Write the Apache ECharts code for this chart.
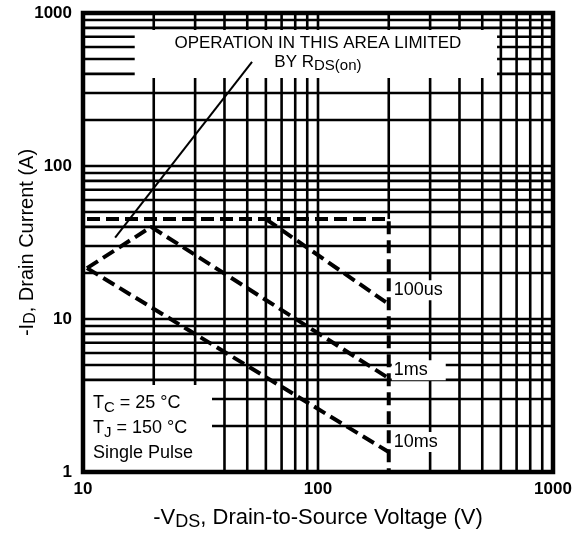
<!DOCTYPE html>
<html>
<head>
<meta charset="utf-8">
<script src="https://cdn.jsdelivr.net/npm/echarts@6/dist/echarts.min.js"></script>
<style>
  html, body { margin: 0; padding: 0; background: #fff; }
  #chart { width: 580px; height: 533px; }
</style>
</head>
<body>
<div id="chart"></div>
<script>
// axis ranges
const vRange = [10, 1000];
const iRange = [1, 1000];

// grid lines inside the plot
const vGrid = [20, 30, 40, 50, 60, 70, 80, 90, 100, 200, 300, 400, 500, 600, 700, 800, 900];
const iGrid = [2, 3, 4, 5, 6, 7, 8, 9, 10, 20, 30, 40, 50, 60, 70, 80, 90,
               100, 200, 300, 400, 500, 600, 700, 800, 900];

// RDS(on) limit
const rdsV = [13.7, 52.4];
const rdsI = [34, 480];
// current / voltage limit
const limitV = [10.4, 200, 200];
const limitI = [45, 45, 1];
// pulse curves
const us100V = [60, 200];
const us100I = [45, 12.5];
const ms1V = [10.4, 19.5, 200];
const ms1I = [21.5, 40, 4.1];
const ms10V = [10.4, 200];
const ms10I = [21.5, 1.35];

// note boxes [v1, i1, v2, i2]
const noteBoxes = [
  [16.6, 774, 578, 376],
  [10, 3.7, 35.4, 1]
];
const noteTexts = [
  '{a|OPERATION IN THIS AREA LIMITED}\n{b|BY R}{s|DS(on)}',
  'T{s|C} = 25 °C\nT{s|J} = 150 °C\nSingle Pulse'
];

const SANS = "'Liberation Sans', Arial, sans-serif";

const pairs = (xs, ys) => xs.map((x, k) => [x, ys[k]]);
const dashed = { color: '#000', width: 4, type: [13, 6], cap: 'butt' };

function curve(name, xs, ys, labelOffset) {
  return {
    type: 'line',
    name: name,
    z: 5,
    silent: true,
    symbol: 'none',
    data: pairs(xs, ys),
    lineStyle: dashed,
    endLabel: labelOffset ? {
      show: true,
      formatter: name,
      distance: 3,
      offset: labelOffset,
      color: '#000',
      fontFamily: SANS,
      fontSize: 18,
      backgroundColor: '#fff',
      width: 52,
      padding: [1, 0, 1, 2]
    } : { show: false }
  };
}

function gridLines(dir) {
  return {
    type: 'custom',
    z: 2,
    silent: true,
    data: dir === 'v' ? vGrid.map(v => [v, iRange[0]]) : iGrid.map(i => [vRange[0], i]),
    renderItem: function (params, api) {
      let a, b;
      if (dir === 'v') {
        const v = api.value(0);
        // the 200 V line turns into the dashed limit below the current limit
        const low = v === limitV[1] ? limitI[1] : iRange[0];
        a = api.coord([v, iRange[1]]);
        b = api.coord([v, low]);
      } else {
        const i = api.value(1);
        a = api.coord([vRange[0], i]);
        b = api.coord([vRange[1], i]);
      }
      return {
        type: 'line',
        shape: { x1: a[0], y1: a[1], x2: b[0], y2: b[1] },
        style: { stroke: '#000', lineWidth: 2.6 }
      };
    }
  };
}

const noteSeries = {
  type: 'custom',
  z: 3,
  silent: true,
  data: noteBoxes,
  renderItem: function (params, api) {
    const p1 = api.coord([api.value(0), api.value(1)]);
    const p2 = api.coord([api.value(2), api.value(3)]);
    const x = Math.min(p1[0], p2[0]), y = Math.min(p1[1], p2[1]);
    const w = Math.abs(p2[0] - p1[0]), h = Math.abs(p2[1] - p1[1]);
    const top = params.dataIndex === 0;
    const text = top ? {
      type: 'text',
      x: x + w / 2 + 2,
      y: y + 5,
      style: {
        text: noteTexts[0],
        fill: '#000',
        align: 'center',
        verticalAlign: 'top',
        fontFamily: SANS,
        fontSize: 17,
        rich: {
          a: { fontFamily: SANS, fontSize: 17, lineHeight: 17, fill: '#000' },
          b: { fontFamily: SANS, fontSize: 17, lineHeight: 21, fill: '#000' },
          s: { fontFamily: SANS, fontSize: 15, lineHeight: 10, verticalAlign: 'bottom', fill: '#000' }
        }
      }
    } : {
      type: 'text',
      x: x + 10,
      y: y + 5,
      style: {
        text: noteTexts[1],
        fill: '#000',
        align: 'left',
        verticalAlign: 'top',
        fontFamily: SANS,
        fontSize: 18,
        lineHeight: 25,
        rich: {
          s: { fontFamily: SANS, fontSize: 15, lineHeight: 12, verticalAlign: 'bottom', fill: '#000' }
        }
      }
    };
    return {
      type: 'group',
      children: [
        { type: 'rect', shape: { x: x, y: y, width: w, height: h }, style: { fill: '#fff' } },
        text
      ]
    };
  }
};

const frameSeries = {
  type: 'custom',
  z: 10,
  silent: true,
  data: [[vRange[0], iRange[1], vRange[1], iRange[0]]],
  renderItem: function (params, api) {
    const p1 = api.coord([api.value(0), api.value(1)]);
    const p2 = api.coord([api.value(2), api.value(3)]);
    return {
      type: 'rect',
      shape: { x: p1[0], y: p1[1], width: p2[0] - p1[0], height: p2[1] - p1[1] },
      style: { fill: null, stroke: '#000', lineWidth: 4.5 }
    };
  }
};

function nameStyle(size) {
  return {
    color: '#000',
    fontFamily: SANS,
    fontSize: size,
    lineHeight: size + 4,
    rich: {
      s: { fontFamily: SANS, fontSize: size - 4, lineHeight: 12, verticalAlign: 'bottom', color: '#000' }
    }
  };
}

const axisCommon = {
  type: 'log',
  logBase: 10,
  axisLine: { show: false },
  axisTick: { show: false },
  splitLine: { show: false },
  nameLocation: 'middle',
  nameMoveOverlap: false
};

const tickLabel = {
  color: '#000',
  fontFamily: SANS,
  fontWeight: 'bold',
  fontSize: 17,
  formatter: function (v) { return String(v); }
};

const option = {
  animation: false,
  backgroundColor: '#fff',
  grid: { left: 83, right: 27, top: 13, bottom: 61, outerBoundsMode: 'none' },
  xAxis: Object.assign({}, axisCommon, {
    min: vRange[0],
    max: vRange[1],
    name: '-V{s|DS}, Drain-to-Source Voltage (V)',
    nameGap: 33,
    nameTextStyle: nameStyle(22),
    axisLabel: Object.assign({ margin: 9 }, tickLabel)
  }),
  yAxis: Object.assign({}, axisCommon, {
    min: iRange[0],
    max: iRange[1],
    name: '-I{s|D}, Drain Current (A)',
    nameGap: 44,
    nameTextStyle: nameStyle(20),
    axisLabel: Object.assign({ margin: 11 }, tickLabel)
  }),
  series: [
    gridLines('v'),
    gridLines('h'),
    noteSeries,
    {
      type: 'line',
      z: 4,
      silent: true,
      symbol: 'none',
      data: pairs(rdsV, rdsI),
      lineStyle: { color: '#000', width: 2 }
    },
    curve('limit', limitV, limitI, null),
    curve('100us', us100V, us100I, [0, -14]),
    curve('1ms', ms1V, ms1I, [0, -8]),
    curve('10ms', ms10V, ms10I, [0, -10]),
    frameSeries
  ]
};

const chart = echarts.init(document.getElementById('chart'));
chart.setOption(option);
window.addEventListener('resize', function () {
  chart.resize();
});
</script>
</body>
</html>
